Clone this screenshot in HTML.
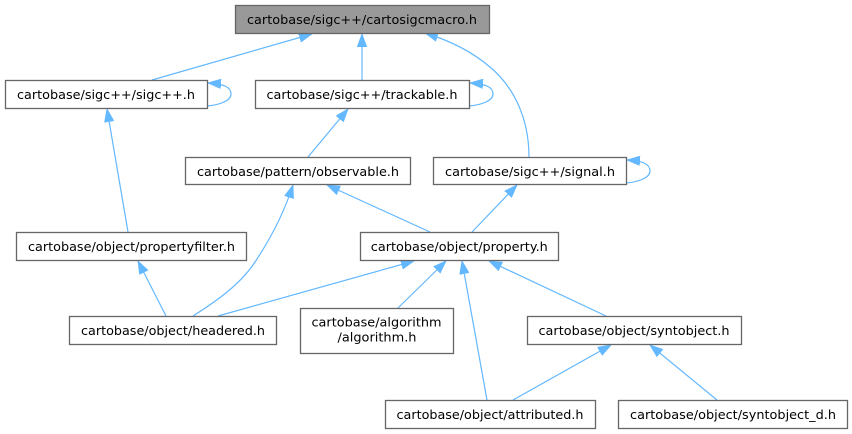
<!DOCTYPE html>
<html><head><meta charset="utf-8"><style>
html,body{margin:0;padding:0;background:#fff;}
svg{display:block;}
text{font-family:"DejaVu Sans","Liberation Sans",sans-serif;font-size:12.8px;fill:#000;text-anchor:middle;}
.b{fill:#fff;stroke:#666;stroke-width:1.3;}
.e{fill:none;stroke:#63b8ff;stroke-width:1.2;marker-end:url(#a);}
</style></head><body>
<svg width="852" height="434" viewBox="0 0 852 434" xmlns="http://www.w3.org/2000/svg">
<defs>
<marker id="a" markerWidth="14" markerHeight="10" refX="13" refY="5" orient="auto" markerUnits="userSpaceOnUse">
<path d="M0,0.3 L13,5 L0,9.7 z" fill="#63b8ff" stroke="#63b8ff" stroke-width="0.8"/>
</marker>
</defs>
<!-- edges -->
<path class="e" d="M152,80 L312,34"/>
<path class="e" d="M362,80 L362,34"/>
<path class="e" d="M529,157 C529,120 515,88 490,67 C470,50 448,40 425,33"/>
<path class="e" d="M207,106 C219,105 231,101 231,94 C231,87 224,84 208,83"/>
<path class="e" d="M469,106 C481,105 493,101 493,94 C493,87 486,84 470,83"/>
<path class="e" d="M626,183 C638,182 650,178 650,171 C650,164 643,161 627,160"/>
<path class="e" d="M128,232 L107,109"/>
<path class="e" d="M308,157 L348,109"/>
<path class="e" d="M193,316 C215,302 240,285 255,262 C273,235 285,210 293,185"/>
<path class="e" d="M430,232 L327,185"/>
<path class="e" d="M472,232 L517,185"/>
<path class="e" d="M166,316 L138,261"/>
<path class="e" d="M218,316 L414,261"/>
<path class="e" d="M398,308 L446,261"/>
<path class="e" d="M487,400 L462,261"/>
<path class="e" d="M606,316 L489,261"/>
<path class="e" d="M513,400 L611,345"/>
<path class="e" d="M717,400 L650,345"/>
<!-- nodes -->
<rect x="235.5" y="5.5" width="254" height="28" fill="#999" stroke="#666" stroke-width="1.3"/>
<text x="362" y="24" textLength="230" lengthAdjust="spacingAndGlyphs">cartobase/sigc++/cartosigcmacro.h</text>

<rect class="b" x="5.5" y="80.5" width="202" height="28"/>
<text x="106" y="99" textLength="178" lengthAdjust="spacingAndGlyphs">cartobase/sigc++/sigc++.h</text>

<rect class="b" x="255.5" y="80.5" width="214" height="28"/>
<text x="362" y="99" textLength="191" lengthAdjust="spacingAndGlyphs">cartobase/sigc++/trackable.h</text>

<rect class="b" x="185.5" y="157.5" width="225" height="27"/>
<text x="298" y="176" textLength="202" lengthAdjust="spacingAndGlyphs">cartobase/pattern/observable.h</text>

<rect class="b" x="433.5" y="157.5" width="193" height="27"/>
<text x="530" y="176" textLength="170" lengthAdjust="spacingAndGlyphs">cartobase/sigc++/signal.h</text>

<rect class="b" x="16.5" y="232.5" width="230" height="28"/>
<text x="131.5" y="251" textLength="207" lengthAdjust="spacingAndGlyphs">cartobase/object/propertyfilter.h</text>

<rect class="b" x="360.5" y="232.5" width="198" height="28"/>
<text x="459.3" y="251" textLength="177" lengthAdjust="spacingAndGlyphs">cartobase/object/property.h</text>

<rect class="b" x="69.5" y="316.5" width="207" height="28"/>
<text x="173" y="335" textLength="184" lengthAdjust="spacingAndGlyphs">cartobase/object/headered.h</text>

<rect class="b" x="300.5" y="308.5" width="153" height="45"/>
<text x="376.5" y="326.5" textLength="130" lengthAdjust="spacingAndGlyphs">cartobase/algorithm</text>
<text x="377" y="341.5" textLength="79" lengthAdjust="spacingAndGlyphs">/algorithm.h</text>

<rect class="b" x="527.5" y="316.5" width="214" height="28"/>
<text x="634" y="335" textLength="191" lengthAdjust="spacingAndGlyphs">cartobase/object/syntobject.h</text>

<rect class="b" x="385.5" y="400.5" width="210" height="28"/>
<text x="490" y="419" textLength="187" lengthAdjust="spacingAndGlyphs">cartobase/object/attributed.h</text>

<rect class="b" x="618.5" y="400.5" width="229" height="28"/>
<text x="733" y="419" textLength="206" lengthAdjust="spacingAndGlyphs">cartobase/object/syntobject_d.h</text>
</svg>
</body></html>
